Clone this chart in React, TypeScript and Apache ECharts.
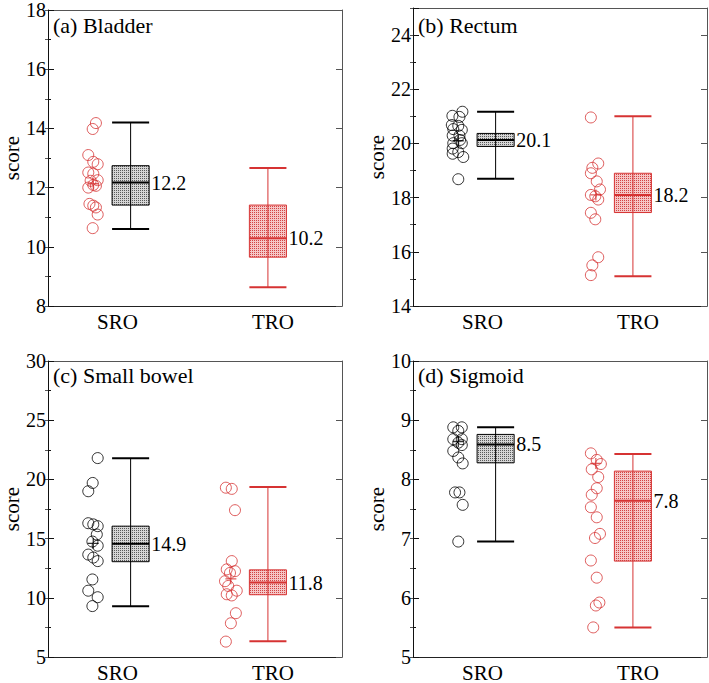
import React, { useEffect, useRef } from 'react';
import * as echarts from 'echarts';

const FONT = 'Liberation Serif';
const RED = '#d63333';
const BLACK = '#000000';

const groupNames = ['SRO', 'TRO'];
const groupLabelX = [2.36, 7.65];
const boxCenters = [2.81, 7.48];
const BOX_HALF = 0.63;

const panelTitles = ['(a) Bladder', '(b) Rectum', '(c) Small bowel', '(d) Sigmoid'];
const yMins = [8, 14, 5, 5];
const yMaxs = [18, 25, 30, 10];
const yMajor = [2, 2, 5, 1];
const yMinor = [1, 1, 2.5, 0.5];

// (a) Bladder
const aSroVals = [14.18, 13.98, 13.1, 12.87, 12.79, 12.51, 12.47, 12.25, 12.23, 12.09, 12.06, 12.0, 11.45, 11.39, 11.33, 11.09, 10.63];
const aSroJit = [1.63, 1.52, 1.37, 1.54, 1.69, 1.37, 1.54, 1.69, 1.45, 1.54, 1.63, 1.37, 1.41, 1.54, 1.63, 1.69, 1.52];
const aTroVals: number[] = [];
const aTroJit: number[] = [];
const aSroBox = [10.6, 11.41, 12.17, 12.74, 14.2];
const aTroBox = [8.63, 9.65, 10.29, 11.41, 12.66];
const aLabels = ['12.2', '10.2'];

// (b) Rectum
const bSroVals = [21.17, 20.98, 21.02, 20.68, 20.65, 20.53, 20.5, 20.29, 20.29, 20.13, 20.01, 20.01, 19.81, 19.68, 19.62, 19.5, 18.68];
const bSroJit = [1.68, 1.58, 1.34, 1.32, 1.54, 1.37, 1.66, 1.35, 1.58, 1.6, 1.37, 1.66, 1.35, 1.54, 1.35, 1.71, 1.54];
const bTroVals = [20.96, 19.26, 19.1, 18.9, 18.6, 18.3, 18.1, 18.05, 17.93, 17.44, 17.2, 15.8, 15.5, 15.14];
const bTroJit = [6.05, 6.3, 6.1, 6.05, 6.25, 6.36, 6.05, 6.2, 6.3, 6.05, 6.2, 6.3, 6.1, 6.05];
const bSroBox = [18.7, 19.89, 20.13, 20.37, 21.17];
const bTroBox = [15.1, 17.45, 18.1, 18.9, 21.0];
const bLabels = ['20.1', '18.2'];

// (c) Small bowel
const cSroVals = [21.8, 19.7, 19.0, 16.3, 16.2, 16.05, 15.35, 14.75, 14.4, 13.65, 13.4, 13.1, 11.55, 10.6, 10.05, 9.3];
const cSroJit = [1.69, 1.52, 1.37, 1.37, 1.54, 1.69, 1.66, 1.51, 1.69, 1.37, 1.54, 1.69, 1.51, 1.37, 1.69, 1.51];
const cTroVals = [19.3, 19.2, 17.4, 13.1, 12.4, 12.25, 12.1, 11.4, 11.0, 10.6, 10.3, 10.2, 8.7, 7.85, 6.3];
const cTroJit = [6.05, 6.25, 6.36, 6.25, 6.08, 6.36, 6.19, 6.02, 6.13, 6.42, 6.08, 6.25, 6.39, 6.22, 6.05];
const cSroBox = [9.28, 13.05, 14.56, 16.05, 21.78];
const cTroBox = [6.34, 10.26, 11.29, 12.36, 19.35];
const cLabels = ['14.9', '11.8'];

// (d) Sigmoid
const dSroVals = [8.88, 8.88, 8.82, 8.68, 8.68, 8.62, 8.58, 8.48, 8.37, 8.27, 7.78, 7.78, 7.57, 6.95];
const dSroJit = [1.37, 1.66, 1.54, 1.37, 1.66, 1.54, 1.66, 1.37, 1.54, 1.69, 1.43, 1.58, 1.69, 1.54];
const dTroVals = [8.44, 8.33, 8.26, 8.17, 8.04, 7.85, 7.74, 7.53, 7.36, 7.08, 7.01, 6.63, 6.34, 5.92, 5.87, 5.5];
const dTroJit = [6.05, 6.25, 6.39, 6.08, 6.3, 6.25, 6.08, 6.05, 6.25, 6.36, 6.19, 6.05, 6.25, 6.34, 6.22, 6.13];
const dSroBox = [6.95, 8.28, 8.59, 8.76, 8.88];
const dTroBox = [5.5, 6.62, 7.64, 8.14, 8.43];
const dLabels = ['8.5', '7.8'];

// mean "+" markers
const crossSro = [12.13, 20.1, 14.6, 8.64];
const crossTro = [NaN, 18.1, 11.6, 8.27];
const crossX = [1.54, 6.22];

const sroDotColors = [RED, BLACK, BLACK, BLACK];

const panels = [
  { sv: aSroVals, sj: aSroJit, tv: aTroVals, tj: aTroJit, sb: aSroBox, tb: aTroBox, lab: aLabels },
  { sv: bSroVals, sj: bSroJit, tv: bTroVals, tj: bTroJit, sb: bSroBox, tb: bTroBox, lab: bLabels },
  { sv: cSroVals, sj: cSroJit, tv: cTroVals, tj: cTroJit, sb: cSroBox, tb: cTroBox, lab: cLabels },
  { sv: dSroVals, sj: dSroJit, tv: dTroVals, tj: dTroJit, sb: dSroBox, tb: dTroBox, lab: dLabels },
];

const gridLeft = [48, 413, 48, 413];
const gridTop = [8, 8, 361, 361];
const gridW = 294;
const gridH = [298, 298, 299, 299];
const titleTop = [14, 14, 364, 364];

const CROSS = 'path://M0,5.3L12,5.3L12,6.7L0,6.7Z M5.3,0L6.7,0L6.7,12L5.3,12Z';

function isMult(v: number, step: number) {
  const r = v / step;
  return Math.abs(r - Math.round(r)) < 1e-6;
}

function makeStipple(bg: string, dot: string, fallback: string): any {
  try {
    const cv = document.createElement('canvas');
    cv.width = 2;
    cv.height = 2;
    const ctx = cv.getContext('2d');
    if (!ctx) return fallback;
    ctx.fillStyle = bg;
    ctx.fillRect(0, 0, 2, 2);
    ctx.fillStyle = dot;
    ctx.fillRect(0, 0, 1, 1);
    return { image: cv, repeat: 'repeat' };
  } catch (e) {
    return fallback;
  }
}

function buildOption() {
  const grid: any[] = [];
  const xAxis: any[] = [];
  const yAxis: any[] = [];
  const series: any[] = [];
  const title: any[] = [];

  const grayFill = makeStipple('#d6d6d6', '#5a5a5a', '#b0b0b0');
  const redFill = makeStipple('#f5c6c6', '#d24444', '#eeaaaa');

  panels.forEach((p, i) => {
    grid.push({ left: gridLeft[i], top: gridTop[i], width: gridW, height: gridH[i], containLabel: false });
    title.push({
      text: panelTitles[i], left: gridLeft[i] + 5, top: titleTop[i], padding: 0,
      textStyle: { fontFamily: FONT, fontSize: 22, fontWeight: 'normal', color: '#000' },
    });
    xAxis.push({
      gridIndex: i, type: 'value', min: 0, max: 10, position: 'bottom',
      axisLine: { show: true, onZero: false, lineStyle: { color: '#222', width: 1 } },
      axisTick: { show: false }, splitLine: { show: false },
      axisLabel: {
        customValues: groupLabelX,
        formatter: (v: number) => (v < 5 ? groupNames[0] : groupNames[1]),
        fontFamily: FONT, fontSize: 21, color: '#000', margin: 5,
      },
    });
    xAxis.push({
      gridIndex: i, type: 'value', min: 0, max: 10, position: 'top',
      axisLine: { show: true, onZero: false, lineStyle: { color: '#555', width: 1 } },
      axisTick: { show: false }, splitLine: { show: false }, axisLabel: { show: false },
    });
    const base = {
      gridIndex: i, type: 'value', min: yMins[i], max: yMaxs[i], splitLine: { show: false },
    };
    yAxis.push({
      ...base, position: 'left', interval: yMajor[i],
      axisLine: { show: true, onZero: false, lineStyle: { color: '#111', width: 1 } },
      axisTick: { show: true, inside: true, length: 6, lineStyle: { color: '#111' } },
      axisLabel: {
        formatter: (v: number) => (isMult(v, yMajor[i]) ? String(v) : ''),
        fontFamily: FONT, fontSize: 20, color: '#000', margin: 2,
      },
      name: 'score', nameLocation: 'middle', nameGap: 16,
      nameTextStyle: { fontFamily: FONT, fontSize: 21, color: '#000' },
    });
    yAxis.push({
      ...base, position: 'left', interval: yMinor[i],
      axisLine: { show: false }, axisLabel: { show: false },
      axisTick: { show: true, inside: true, length: 3, lineStyle: { color: '#111' } },
    });
    yAxis.push({
      ...base, position: 'right', interval: yMajor[i],
      axisLine: { show: true, onZero: false, lineStyle: { color: '#555', width: 1 } },
      axisLabel: { show: false },
      axisTick: { show: true, inside: true, length: 6, lineStyle: { color: '#555' } },
    });
    yAxis.push({
      ...base, position: 'right', interval: yMinor[i],
      axisLine: { show: false }, axisLabel: { show: false },
      axisTick: { show: true, inside: true, length: 3, lineStyle: { color: '#555' } },
    });

    const xi = 2 * i;
    const yi = 4 * i;
    series.push({
      type: 'scatter', xAxisIndex: xi, yAxisIndex: yi,
      data: p.sv.map((v, k) => [p.sj[k], v]),
      symbol: 'circle', symbolSize: 11,
      itemStyle: { color: 'rgba(0,0,0,0)', borderColor: sroDotColors[i], borderWidth: 1 },
      silent: true, z: 3,
    });
    series.push({
      type: 'scatter', xAxisIndex: xi, yAxisIndex: yi,
      data: p.tv.map((v, k) => [p.tj[k], v]),
      symbol: 'circle', symbolSize: 11,
      itemStyle: { color: 'rgba(0,0,0,0)', borderColor: RED, borderWidth: 1 },
      silent: true, z: 3,
    });
    series.push({
      type: 'scatter', xAxisIndex: xi, yAxisIndex: yi, data: [[crossX[0], crossSro[i]]],
      symbol: CROSS, symbolSize: 11, itemStyle: { color: sroDotColors[i] }, silent: true, z: 4,
    });
    if (!isNaN(crossTro[i])) {
      series.push({
        type: 'scatter', xAxisIndex: xi, yAxisIndex: yi, data: [[crossX[1], crossTro[i]]],
        symbol: CROSS, symbolSize: 11, itemStyle: { color: RED }, silent: true, z: 4,
      });
    }
    const boxColors = [BLACK, RED];
    const boxFills = [grayFill, redFill];
    const labels = p.lab;
    series.push({
      type: 'custom', xAxisIndex: xi, yAxisIndex: yi, coordinateSystem: 'cartesian2d',
      data: [
        [boxCenters[0], ...p.sb],
        [boxCenters[1], ...p.tb],
      ],
      silent: true, z: 2,
      renderItem: (params: any, api: any) => {
        const idx = params.dataIndex;
        const x = api.value(0);
        const c = api.coord([x, api.value(1)]);
        const cx = c[0];
        const yLow = c[1];
        const yQ1 = api.coord([x, api.value(2)])[1];
        const yMed = api.coord([x, api.value(3)])[1];
        const yQ3 = api.coord([x, api.value(4)])[1];
        const yHigh = api.coord([x, api.value(5)])[1];
        const half = api.size([BOX_HALF, 0])[0];
        const col = boxColors[idx];
        return {
          type: 'group',
          children: [
            {
              type: 'rect',
              shape: { x: cx - half, y: yQ3, width: 2 * half, height: yQ1 - yQ3 },
              style: { fill: boxFills[idx], stroke: col, lineWidth: 1 },
            },
            { type: 'line', shape: { x1: cx, y1: yHigh, x2: cx, y2: yLow }, style: { stroke: col, lineWidth: 1 } },
            { type: 'line', shape: { x1: cx - half, y1: yHigh, x2: cx + half, y2: yHigh }, style: { stroke: col, lineWidth: 2 } },
            { type: 'line', shape: { x1: cx - half, y1: yLow, x2: cx + half, y2: yLow }, style: { stroke: col, lineWidth: 2 } },
            { type: 'line', shape: { x1: cx - half, y1: yMed, x2: cx + half, y2: yMed }, style: { stroke: col, lineWidth: 2 } },
            {
              type: 'text',
              style: {
                text: labels[idx], x: cx + half + 2, y: yMed,
                fill: '#000', fontSize: 20, fontFamily: FONT, align: 'left', verticalAlign: 'middle',
              },
            },
          ],
        };
      },
    });
  });

  return {
    animation: false,
    backgroundColor: '#ffffff',
    textStyle: { fontFamily: FONT, color: '#000' },
    title, grid, xAxis, yAxis, series,
  };
}

export default function App() {
  const ref = useRef<HTMLDivElement>(null);
  useEffect(() => {
    if (!ref.current) return;
    const chart = echarts.init(ref.current, undefined, { renderer: 'svg' });
    chart.setOption(buildOption() as any);
    return () => chart.dispose();
  }, []);
  return <div ref={ref} style={{ position: 'fixed', left: 0, top: 0, width: 709, height: 683 }} />;
}
